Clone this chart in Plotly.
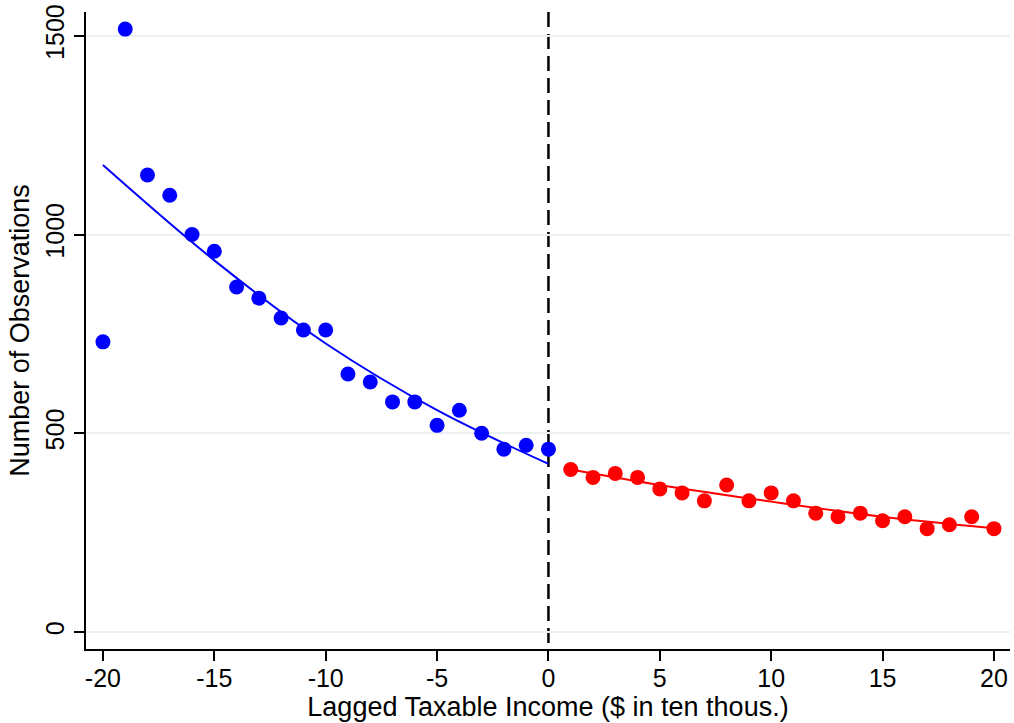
import plotly.graph_objects as go

# Binned data
x_left = list(range(-20, 1))
y_left = [730, 1517, 1150, 1099, 1000, 958, 868, 840, 790, 760, 760,
          649, 629, 579, 579, 520, 558, 500, 460, 470, 460]
x_right = list(range(1, 21))
y_right = [409, 389, 399, 389, 360, 350, 330, 370, 330, 350,
           330, 299, 290, 299, 280, 290, 260, 270, 290, 260]

# Fitted curves
fit_left_x = [-20, -15, -10, -5, 0]
fit_left_y = [1175, 935, 726, 558, 423]
fit_right_x = [1, 5, 10, 15, 20]
fit_right_y = [409, 370, 328, 290, 261]

x_ticks = [-20, -15, -10, -5, 0, 5, 10, 15, 20]
x_tick_text = ["-20", "-15", "-10", "-5", "0", "5", "10", "15", "20"]
y_ticks = [0, 500, 1000, 1500]
y_tick_text = ["0", "500", "1000", "1500"]

FONT = "Liberation Sans, Arial, sans-serif"

fig = go.Figure()
fig.add_trace(go.Scatter(x=fit_left_x, y=fit_left_y, mode="lines",
                         line=dict(color="#0000ff", width=2, shape="spline"),
                         showlegend=False, hoverinfo="skip"))
fig.add_trace(go.Scatter(x=fit_right_x, y=fit_right_y, mode="lines",
                         line=dict(color="#ff0000", width=2, shape="spline"),
                         showlegend=False, hoverinfo="skip"))
fig.add_trace(go.Scatter(x=x_left, y=y_left, mode="markers",
                         marker=dict(color="#0000ff", size=15),
                         showlegend=False))
fig.add_trace(go.Scatter(x=x_right, y=y_right, mode="markers",
                         marker=dict(color="#ff0000", size=15),
                         showlegend=False))

fig.add_shape(type="line", xref="x", yref="paper", x0=0, x1=0, y0=1, y1=0,
              line=dict(color="black", width=2.5, dash="15px,7px"), layer="below")

fig.update_layout(
    width=1014, height=723,
    margin=dict(l=86, r=4, t=12, b=74),
    paper_bgcolor="white", plot_bgcolor="white",
    font=dict(family=FONT, size=25, color="black"),
    showlegend=False,
)
fig.update_xaxes(
    range=[-20.76, 20.72], tickvals=x_ticks, ticktext=x_tick_text,
    automargin=False,
    showgrid=False, zeroline=False,
    showline=True, linecolor="black", linewidth=1.6,
    ticks="outside", ticklen=10, tickwidth=1.6, tickcolor="black",
    tickfont=dict(size=25), ticklabelstandoff=-4,
    title=dict(text="Lagged Taxable Income ($ in ten thous.)", font=dict(size=27), standoff=2),
)
fig.update_yaxes(
    range=[-42.8, 1560], tickvals=y_ticks, ticktext=y_tick_text,
    automargin=False,
    showgrid=True, gridcolor="#eaf0f4", gridwidth=1.5, zeroline=False,
    showline=True, linecolor="black", linewidth=1.6,
    ticks="outside", ticklen=10, tickwidth=1.6, tickcolor="black",
    tickangle=-90, tickfont=dict(size=25), ticklabelstandoff=0,
    title=dict(text="Number of Observations", font=dict(size=27), standoff=4),
)

fig.write_html("out.html", config={"displayModeBar": False},
               post_script="document.body.style.margin='0';document.body.style.overflow='hidden';")
